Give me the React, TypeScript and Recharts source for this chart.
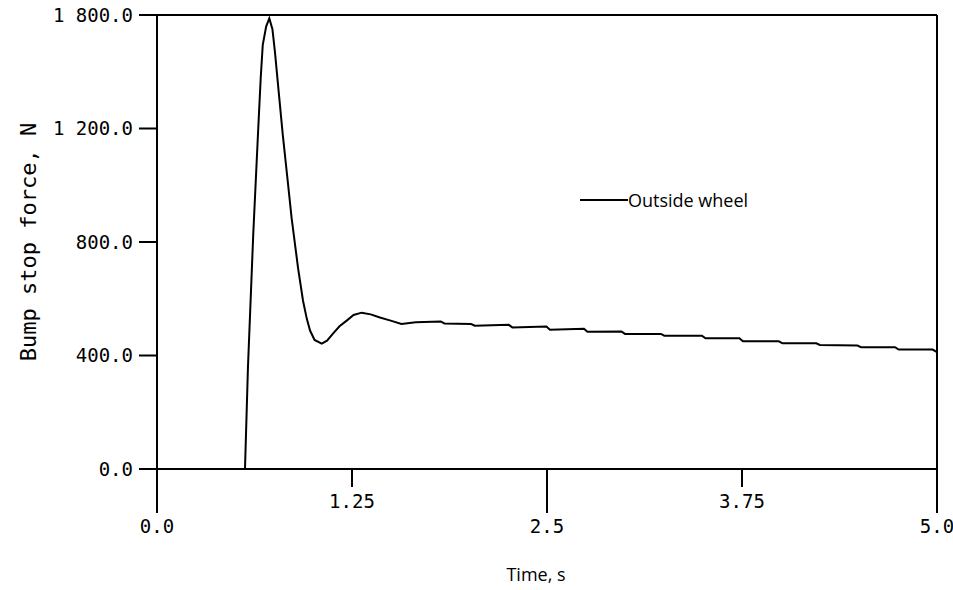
import React from 'react';
import { LineChart, Line, XAxis, YAxis, ReferenceLine, Legend, Label } from 'recharts';

// time (s) and bump stop force (N)
const time = [
  0.564, 0.583, 0.617, 0.649, 0.665, 0.678, 0.7, 0.72, 0.74, 0.756, 0.78, 0.806, 0.835, 0.863,
  0.904, 0.936, 0.96, 0.981, 1.01, 1.056, 1.09, 1.128, 1.17, 1.216, 1.26, 1.312, 1.37, 1.429,
  1.498, 1.567, 1.659, 1.819, 1.842, 2.014, 2.037, 2.255, 2.278, 2.496, 2.519, 2.737, 2.759,
  2.977, 3.0, 3.23, 3.252, 3.493, 3.516, 3.733, 3.756, 3.986, 4.009, 4.226, 4.249, 4.49, 4.513,
  4.731, 4.754, 4.972, 5.0,
];
const outsideWheel = [
  0, 358, 828, 1200, 1380, 1495, 1560, 1588, 1550, 1470, 1330, 1179, 1030, 884,
  709, 593, 530, 488, 455, 442, 452, 477, 503, 523, 543, 551, 545, 534,
  523, 511, 517, 520, 513, 511, 505, 508, 499, 502, 491, 494, 484,
  485, 476, 476, 470, 470, 461, 461, 450, 450, 443, 443, 437, 435, 429,
  429, 421, 421, 412,
];

const xTicks = [0, 1.25, 2.5, 3.75, 5];
const xTickLabels = ['0.0', '1.25', '2.5', '3.75', '5.0'];
const xMajor = [0, 2.5, 5];
const yTicks = [0, 400, 800, 1200, 1600];
const yTickLabels = ['0.0', '400.0', '800.0', '1 200.0', '1 800.0'];

const data = time.map((t, i) => ({ t, force: outsideWheel[i] }));

const monoFont = '"DejaVu Sans Mono", monospace';
const sansFont = '"Open Sans", sans-serif';

const XTick = (props: any) => {
  const { x, y, payload } = props;
  const major = xMajor.includes(payload.value);
  const label = xTickLabels[xTicks.indexOf(payload.value)];
  return (
    <g>
      <line x1={x} y1={y} x2={x} y2={y + (major ? 44 : 18)} stroke="#000" strokeWidth={2} />
      <text x={x} y={y + (major ? 64 : 39)} textAnchor="middle" fontFamily={monoFont} fontSize={19} fill="#000">
        {label}
      </text>
    </g>
  );
};

const YLabel = (props: any) => {
  const { viewBox } = props;
  const cx = viewBox.x + 36;
  const cy = viewBox.y + viewBox.height / 2;
  return (
    <text x={cx} y={cy} transform={`rotate(-90, ${cx}, ${cy})`} textAnchor="middle" fontFamily={monoFont} fontSize={22} fill="#000">
      Bump stop force, N
    </text>
  );
};

const renderLegend = (props: any) => {
  const { payload } = props;
  return (
    <div>
      {payload.map((entry: any) => (
        <div key={entry.value} style={{ display: 'flex', alignItems: 'center' }}>
          <span style={{ display: 'inline-block', width: 48, height: 2, background: '#000' }} />
          <span style={{ fontFamily: sansFont, fontSize: 18, color: '#000' }}>{entry.value}</span>
        </div>
      ))}
    </div>
  );
};

export default function App() {
  return (
    <div style={{ position: 'absolute', left: 0, top: 0, background: '#fff' }}>
      <LineChart width={953} height={590} data={data} margin={{ top: 15, right: 16, bottom: 0, left: 0 }}>
        <XAxis
          dataKey="t"
          type="number"
          domain={[0, 5]}
          ticks={xTicks}
          interval={0}
          height={121}
          tickSize={0}
          tickMargin={0}
          tickLine={false}
          tick={<XTick />}
          axisLine={{ stroke: '#000', strokeWidth: 2 }}
        >
          <Label value="Time, s" position="insideBottom" offset={9} dx={-11} fontFamily={sansFont} fontSize={18} fill="#000" />
        </XAxis>
        <YAxis
          type="number"
          domain={[0, 1600]}
          ticks={yTicks}
          interval={0}
          width={157}
          tickSize={18}
          tickMargin={6}
          tickFormatter={(v: number) => yTickLabels[yTicks.indexOf(v)]}
          tick={{ fontFamily: monoFont, fontSize: 19, fill: '#000' }}
          tickLine={{ stroke: '#000', strokeWidth: 2 }}
          axisLine={{ stroke: '#000', strokeWidth: 2 }}
          label={<YLabel />}
        />
        <ReferenceLine y={1600} stroke="#000" strokeWidth={2} />
        <ReferenceLine x={5} stroke="#000" strokeWidth={2} />
        <Legend
          layout="horizontal"
          verticalAlign="middle"
          align="center"
          content={renderLegend}
          wrapperStyle={{ left: 580, top: 188, width: 220 }}
        />
        <Line
          type="linear"
          dataKey="force"
          name="Outside wheel"
          stroke="#000"
          strokeWidth={2}
          dot={false}
          isAnimationActive={false}
        />
      </LineChart>
    </div>
  );
}
